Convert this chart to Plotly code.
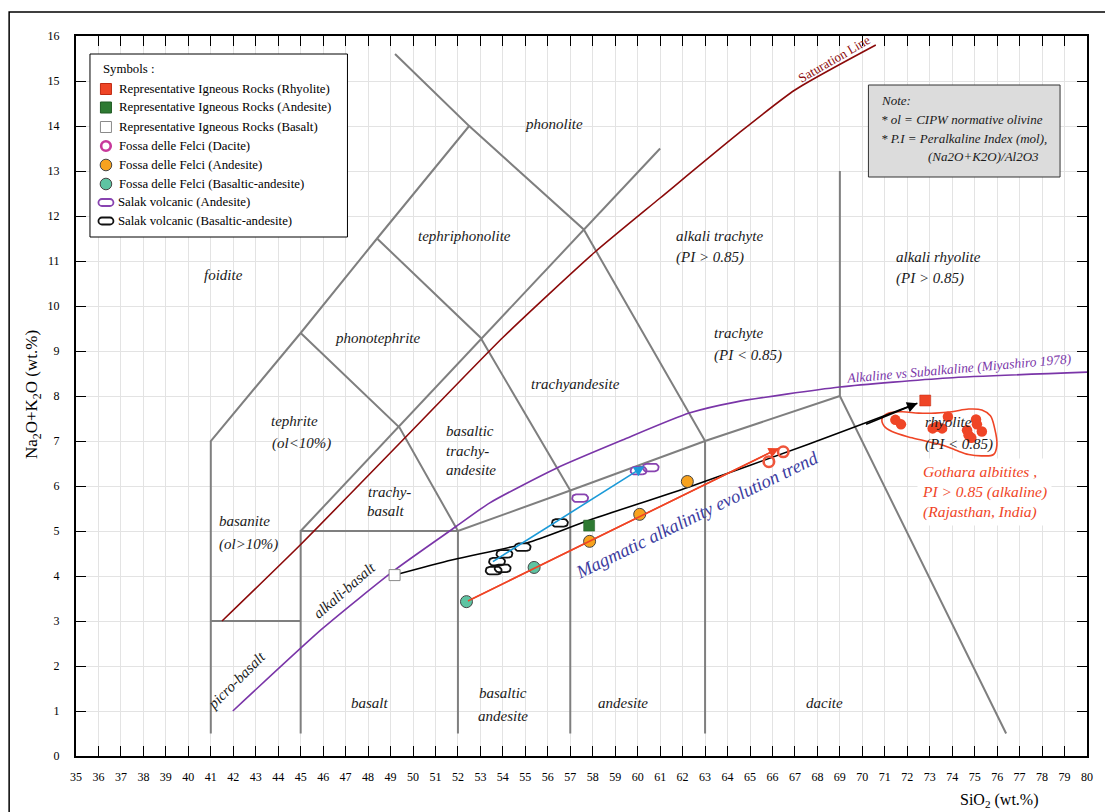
import numpy as np
import plotly.graph_objects as go

# ---- canvas / axis geometry -------------------------------------------------
W, H = 1105, 812
ML, MR, MT, MB = 76, 16, 36, 56
X_RANGE = (35, 80)
Y_RANGE = (0, 16)
PW, PH = W - ML - MR, H - MT - MB
PX_PER_X = PW / (X_RANGE[1] - X_RANGE[0])
PX_PER_Y = PH / (Y_RANGE[1] - Y_RANGE[0])

SERIF = "Liberation Serif, Times New Roman, serif"


def paper_x(px):
    return (px - ML) / PW


def paper_y(py):
    return (H - MB - py) / PH


# ---- TAS field boundaries (SiO2, Na2O+K2O) ----------------------------------
tas_boundaries = [
    [(41, 0.5), (41, 7), (45, 9.4), (48.4, 11.5), (52.5, 14), (49.2, 15.6)],
    [(52.5, 14), (57.6, 11.7), (63, 7)],
    [(41, 3), (45, 3)],
    [(45, 0.5), (45, 5), (52, 5), (57, 5.9), (63, 7), (69, 8)],
    [(52, 0.5), (52, 5)],
    [(57, 0.5), (57, 5.9)],
    [(63, 0.5), (63, 7)],
    [(69, 13), (69, 8), (76.4, 0.5)],
    [(45, 5), (61, 13.5)],
    [(45, 9.4), (49.4, 7.3), (52, 5)],
    [(48.4, 11.5), (53, 9.3), (57, 5.9)],
]

# silica saturation line
sat_x = [41.5, 45.0, 49.7, 54.0, 58.1, 61.0, 64.5, 67.0, 70.6]
sat_y = [3.0, 4.7, 7.1, 9.3, 11.2, 12.4, 13.84, 14.8, 15.8]

# alkaline / subalkaline divide (Miyashiro 1978)
miy_x = [41.98, 45.99, 49.18, 51.92, 53.4, 56.36, 59.32, 62.29, 64.4, 69.0, 73.8, 80.0]
miy_y = [1.0, 2.84, 4.13, 5.1, 5.62, 6.39, 7.02, 7.62, 7.87, 8.2, 8.4, 8.53]

# magmatic alkalinity evolution trend
trend_x = [49.18, 51.77, 55.03, 57.84, 62.29, 67.6, 72.45]
trend_y = [4.02, 4.36, 4.73, 5.24, 5.98, 6.93, 7.84]

# samples
rep_rhyolite_x, rep_rhyolite_y = [72.8], [7.9]
rep_andesite_x, rep_andesite_y = [57.84], [5.12]
rep_basalt_x, rep_basalt_y = [49.18], [4.02]

felci_dacite_x = [65.84, 66.48]
felci_dacite_y = [6.54, 6.76]
felci_andesite_x = [57.86, 60.09, 62.21]
felci_andesite_y = [4.77, 5.37, 6.10]
felci_basand_x = [52.38, 55.39]
felci_basand_y = [3.43, 4.19]

salak_andesite_x = [57.44, 60.04, 60.58]
salak_andesite_y = [5.73, 6.34, 6.41]
salak_basand_x = [56.54, 54.88, 54.07, 53.74, 53.99, 53.59]
salak_basand_y = [5.18, 4.64, 4.49, 4.32, 4.17, 4.12]

gothara_x = [71.47, 71.72, 73.13, 73.32, 73.55, 73.81, 74.66, 74.73, 74.85, 75.06, 75.10, 75.32]
gothara_y = [7.47, 7.37, 7.28, 7.32, 7.28, 7.54, 7.24, 7.13, 7.07, 7.48, 7.37, 7.21]

gothara_outline_x = [70.88, 71.18, 71.77, 72.51, 73.25, 73.99, 74.73, 75.32, 75.70, 75.89,
                     75.99, 75.84, 75.32, 74.73, 74.14, 73.55, 72.21, 71.32, 70.96, 70.88]
gothara_outline_y = [7.50, 7.62, 7.65, 7.62, 7.62, 7.65, 7.71, 7.69, 7.56, 7.28,
                     6.91, 6.70, 6.67, 6.70, 6.80, 6.91, 7.07, 7.21, 7.34, 7.50]

# trend arrows: (tail x, tail y, head x, head y)
felci_arrow = (52.38, 3.43, 66.29, 6.84)
salak_arrow = (53.49, 4.30, 60.30, 6.44)

# colours
C_GRAY = "#7f7f7f"
C_SAT = "#8b0a0a"
C_MIY = "#7a35a8"
C_RED = "#ef4526"
C_GREEN = "#2e7a32"
C_MAGENTA = "#c8399b"
C_ORANGE = "#f7a21e"
C_TEAL = "#5ec4a2"
C_PURPLE = "#8843b0"
C_BLUE = "#1b9ad8"
C_TREND = "#3c3ca0"


def stadium(xs, ys, w_px=16, h_px=7.5, n=14):
    """Closed rounded-capsule outline around each point, sized in pixels."""
    r = h_px / 2
    half = w_px / 2 - r
    ox, oy = [], []
    for cx, cy in zip(xs, ys):
        ang_r = np.linspace(-np.pi / 2, np.pi / 2, n)
        ang_l = np.linspace(np.pi / 2, 3 * np.pi / 2, n)
        dx = np.concatenate([half + r * np.cos(ang_r), -half + r * np.cos(ang_l)])
        dy = np.concatenate([r * np.sin(ang_r), r * np.sin(ang_l)])
        dx = np.append(dx, dx[0])
        dy = np.append(dy, dy[0])
        ox += list(cx + dx / PX_PER_X) + [None]
        oy += list(cy + dy / PX_PER_Y) + [None]
    return ox, oy


fig = go.Figure()

# field boundaries
for seg in tas_boundaries:
    fig.add_trace(go.Scatter(x=[p[0] for p in seg], y=[p[1] for p in seg], mode="lines",
                             line=dict(color=C_GRAY, width=2), hoverinfo="skip"))

fig.add_trace(go.Scatter(x=sat_x, y=sat_y, mode="lines",
                         line=dict(color=C_SAT, width=1.6, shape="spline", smoothing=0.6)))
fig.add_trace(go.Scatter(x=miy_x, y=miy_y, mode="lines",
                         line=dict(color=C_MIY, width=1.6, shape="spline", smoothing=0.6)))

# Gothara albitite envelope
fig.add_trace(go.Scatter(x=gothara_outline_x, y=gothara_outline_y, mode="lines",
                         line=dict(color=C_RED, width=1.6, shape="spline", smoothing=1.0)))

# evolution trend curve
fig.add_trace(go.Scatter(x=trend_x, y=trend_y, mode="lines",
                         line=dict(color="black", width=1.6, shape="spline", smoothing=0.8)))

# Salak capsules
sx, sy = stadium(salak_basand_x, salak_basand_y)
fig.add_trace(go.Scatter(x=sx, y=sy, mode="lines", fill="toself", fillcolor="white",
                         line=dict(color="#111111", width=1.8)))
sx, sy = stadium(salak_andesite_x, salak_andesite_y)
fig.add_trace(go.Scatter(x=sx, y=sy, mode="lines", fill="toself", fillcolor="white",
                         line=dict(color=C_PURPLE, width=1.8)))

# red line under the Fossa delle Felci markers
fig.add_trace(go.Scatter(x=[felci_arrow[0], felci_arrow[2]], y=[felci_arrow[1], felci_arrow[3]],
                         mode="lines", line=dict(color=C_RED, width=1.5)))

# markers
fig.add_trace(go.Scatter(x=gothara_x, y=gothara_y, mode="markers",
                         marker=dict(symbol="circle", size=10.5, color=C_RED, line=dict(width=0))))
fig.add_trace(go.Scatter(x=felci_basand_x, y=felci_basand_y, mode="markers",
                         marker=dict(symbol="circle", size=12, color=C_TEAL,
                                     line=dict(color="#444444", width=1))))
fig.add_trace(go.Scatter(x=felci_andesite_x, y=felci_andesite_y, mode="markers",
                         marker=dict(symbol="circle", size=12, color=C_ORANGE,
                                     line=dict(color="#444444", width=1))))
fig.add_trace(go.Scatter(x=felci_dacite_x, y=felci_dacite_y, mode="markers",
                         marker=dict(symbol="circle-open", size=10.5,
                                     line=dict(color=C_MAGENTA, width=2.6))))
fig.add_trace(go.Scatter(x=rep_basalt_x, y=rep_basalt_y, mode="markers",
                         marker=dict(symbol="square", size=11, color="white",
                                     line=dict(color="#8a8a8a", width=1))))
fig.add_trace(go.Scatter(x=rep_andesite_x, y=rep_andesite_y, mode="markers",
                         marker=dict(symbol="square", size=11, color=C_GREEN,
                                     line=dict(color="#1f5a22", width=0.5))))
fig.add_trace(go.Scatter(x=rep_rhyolite_x, y=rep_rhyolite_y, mode="markers",
                         marker=dict(symbol="square", size=11, color=C_RED,
                                     line=dict(color="#c02a12", width=0.5))))

annotations = []
shapes = []

# arrow heads
for (tx, ty, hx, hy), col in [(felci_arrow, C_RED), (salak_arrow, C_BLUE)]:
    annotations.append(dict(x=hx, y=hy, ax=tx, ay=ty, xref="x", yref="y", axref="x", ayref="y",
                            text="", showarrow=True, arrowhead=2, arrowsize=1.3,
                            arrowwidth=1.6, arrowcolor=col))
annotations.append(dict(x=trend_x[-1], y=trend_y[-1], ax=trend_x[-2] + 2.5, ay=trend_y[-2] + 0.43,
                        xref="x", yref="y", axref="x", ayref="y", text="", showarrow=True,
                        arrowhead=2, arrowsize=1.3, arrowwidth=1.6, arrowcolor="black"))

# field names
field_labels = [
    ("phonolite", 56.29, 14.04, "center"),
    ("tephriphonolite", 52.29, 11.56, "center"),
    ("foidite", 41.58, 10.69, "center"),
    ("phonotephrite", 48.44, 9.30, "center"),
    ("tephrite", 44.73, 7.45, "center"),
    ("(ol&lt;10%)", 45.03, 6.95, "center"),
    ("basanite", 42.51, 5.23, "center"),
    ("(ol&gt;10%)", 42.66, 4.71, "center"),
    ("trachy-", 48.96, 5.86, "center"),
    ("basalt", 48.81, 5.45, "center"),
    ("basaltic", 51.4, 7.22, "left"),
    ("trachy-", 51.4, 6.78, "left"),
    ("andesite", 51.4, 6.35, "left"),
    ("trachyandesite", 57.22, 8.27, "center"),
    ("trachyte", 63.31, 9.40, "left"),
    ("(PI &lt; 0.85)", 63.31, 8.91, "left"),
    ("alkali trachyte", 61.62, 11.56, "left"),
    ("(PI &gt; 0.85)", 61.62, 11.07, "left"),
    ("alkali rhyolite", 71.40, 11.09, "left"),
    ("(PI &gt; 0.85)", 71.40, 10.62, "left"),
    ("rhyolite", 72.70, 7.42, "left"),
    ("(PI &lt; 0.85)", 72.70, 6.93, "left"),
    ("basalt", 48.07, 1.18, "center"),
    ("basaltic", 54.02, 1.40, "center"),
    ("andesite", 54.02, 0.89, "center"),
    ("andesite", 59.36, 1.18, "center"),
    ("dacite", 68.33, 1.18, "center"),
]
for txt, x, y, anc in field_labels:
    annotations.append(dict(x=x, y=y, xref="x", yref="y", text=f"<i>{txt}</i>", showarrow=False,
                            xanchor=anc, yanchor="middle",
                            font=dict(family=SERIF, size=15, color="#1a1a1a")))

for txt, x, y, ang in [("alkali-basalt", 46.96, 3.69, -41), ("picro-basalt", 42.16, 1.69, -45)]:
    annotations.append(dict(x=x, y=y, xref="x", yref="y", text=f"<i>{txt}</i>", showarrow=False,
                            textangle=ang, xanchor="center", yanchor="middle",
                            font=dict(family=SERIF, size=15, color="#1a1a1a")))

annotations.append(dict(x=68.78, y=15.49, xref="x", yref="y", text="Saturation Line",
                        showarrow=False, textangle=-30, xanchor="center", yanchor="middle",
                        font=dict(family=SERIF, size=13, color=C_SAT)))
annotations.append(dict(x=74.29, y=8.62, xref="x", yref="y",
                        text="<i>Alkaline vs Subalkaline (Miyashiro 1978)</i>",
                        showarrow=False, textangle=-5, xanchor="center", yanchor="middle",
                        font=dict(family=SERIF, size=13.5, color=C_MIY)))
annotations.append(dict(x=62.64, y=5.36, xref="x", yref="y",
                        text="<i>Magmatic alkalinity evolution trend</i>",
                        showarrow=False, textangle=-26, xanchor="center", yanchor="middle",
                        font=dict(family=SERIF, size=18.5, color=C_TREND)))
annotations.append(dict(x=72.45, y=5.87, xref="x", yref="y",
                        text="<i>Gothara albitites ,<br>PI &gt; 0.85 (alkaline)<br>(Rajasthan, India)</i>",
                        showarrow=False, xanchor="left", yanchor="middle", align="left",
                        bgcolor="white", borderpad=4,
                        font=dict(family=SERIF, size=15.5, color=C_RED)))

# axis titles
annotations.append(dict(x=paper_x(33), y=paper_y(395), xref="paper", yref="paper",
                        text="Na<sub>2</sub>O+K<sub>2</sub>O (wt.%)", showarrow=False, textangle=-90,
                        xanchor="center", yanchor="middle",
                        font=dict(family=SERIF, size=17, color="black")))
annotations.append(dict(x=paper_x(1001), y=paper_y(800), xref="paper", yref="paper",
                        text="SiO<sub>2</sub> (wt.%)", showarrow=False,
                        xanchor="center", yanchor="middle",
                        font=dict(family=SERIF, size=16, color="black")))

# outer frame
shapes.append(dict(type="rect", xref="paper", yref="paper",
                   x0=paper_x(9), x1=paper_x(1115), y0=paper_y(820), y1=paper_y(12),
                   line=dict(color="black", width=1.5), fillcolor="rgba(0,0,0,0)", layer="above"))

# note box
shapes.append(dict(type="rect", xref="paper", yref="paper",
                   x0=paper_x(870), x1=paper_x(1062), y0=paper_y(177), y1=paper_y(85),
                   line=dict(color="#333333", width=1), fillcolor="#dcdcdc", layer="above"))
note_lines = [("Note:", 881, 100), ("* ol = CIPW normative olivine", 881, 119),
              ("* P.I = Peralkaline Index (mol),", 881, 138), ("(Na2O+K2O)/Al2O3", 928, 157)]
for txt, px, py in note_lines:
    annotations.append(dict(x=paper_x(px), y=paper_y(py), xref="paper", yref="paper",
                            text=f"<i>{txt}</i>", showarrow=False, xanchor="left", yanchor="middle",
                            font=dict(family=SERIF, size=13, color="#1a1a1a")))

# symbol key
shapes.append(dict(type="rect", xref="paper", yref="paper",
                   x0=paper_x(90), x1=paper_x(348), y0=paper_y(237), y1=paper_y(54),
                   line=dict(color="black", width=1), fillcolor="white", layer="above"))
annotations.append(dict(x=paper_x(101), y=paper_y(69.5), xref="paper", yref="paper",
                        text="Symbols :", showarrow=False, xanchor="left", yanchor="middle",
                        font=dict(family=SERIF, size=12.8, color="black")))
legend_items = [
    ("Representative Igneous Rocks (Rhyolite)", "square", C_RED, "#c02a12"),
    ("Representative Igneous Rocks (Andesite)", "square", C_GREEN, "#1f5a22"),
    ("Representative Igneous Rocks (Basalt)", "square", "white", "#8a8a8a"),
    ("Fossa delle Felci (Dacite)", "ring", "white", C_MAGENTA),
    ("Fossa delle Felci (Andesite)", "circle", C_ORANGE, "#444444"),
    ("Fossa delle Felci (Basaltic-andesite)", "circle", C_TEAL, "#444444"),
    ("Salak volcanic (Andesite)", "oval", "white", C_PURPLE),
    ("Salak volcanic (Basaltic-andesite)", "oval", "white", "#111111"),
]
legend_rows = [89, 107.5, 127, 146, 165, 184, 202.5, 221]
k = 0.5523
for (label, kind, fill, edge), row in zip(legend_items, legend_rows):
    ax_, ay_ = paper_x(106), paper_y(row)
    base = dict(xref="paper", yref="paper", xsizemode="pixel", ysizemode="pixel",
                xanchor=ax_, yanchor=ay_, layer="above")
    if kind == "square":
        shapes.append(dict(type="rect", x0=-5.5, x1=5.5, y0=-5.5, y1=5.5, fillcolor=fill,
                           line=dict(color=edge, width=1), **base))
    elif kind == "ring":
        shapes.append(dict(type="circle", x0=-4.8, x1=4.8, y0=-4.8, y1=4.8, fillcolor="white",
                           line=dict(color=edge, width=2.6), **base))
    elif kind == "circle":
        shapes.append(dict(type="circle", x0=-5.8, x1=5.8, y0=-5.8, y1=5.8, fillcolor=fill,
                           line=dict(color=edge, width=1), **base))
    else:
        r, hw = 3.5, 4.0
        c = k * r
        path = (f"M {-hw},{r} L {hw},{r} C {hw + c},{r} {hw + r},{c} {hw + r},0 "
                f"C {hw + r},{-c} {hw + c},{-r} {hw},{-r} L {-hw},{-r} "
                f"C {-hw - c},{-r} {-hw - r},{-c} {-hw - r},0 "
                f"C {-hw - r},{c} {-hw - c},{r} {-hw},{r} Z")
        shapes.append(dict(type="path", path=path, fillcolor="white",
                           line=dict(color=edge, width=1.8), **base))
    annotations.append(dict(x=paper_x(117 if kind != "oval" else 116), y=paper_y(row),
                            xref="paper", yref="paper", text=label, showarrow=False,
                            xanchor="left", yanchor="middle",
                            font=dict(family=SERIF, size=12.8, color="black")))

axis_common = dict(showgrid=True, gridcolor="#e3e3e3", gridwidth=1, zeroline=False,
                   showline=True, linecolor="black", linewidth=2, mirror="ticks",
                   ticks="inside", ticklen=10, tickwidth=1, tickcolor="black",
                   dtick=1, tickfont=dict(family=SERIF, size=12, color="black"))

fig.update_layout(
    width=W, height=H,
    margin=dict(l=ML, r=MR, t=MT, b=MB, pad=0),
    paper_bgcolor="white", plot_bgcolor="white",
    showlegend=False,
    xaxis=dict(range=list(X_RANGE), tick0=35, ticklabelstandoff=9, **axis_common),
    yaxis=dict(range=list(Y_RANGE), tick0=0, ticklabelstandoff=12, **axis_common),
    annotations=annotations,
    shapes=shapes,
)

fig.write_html("out.html")
